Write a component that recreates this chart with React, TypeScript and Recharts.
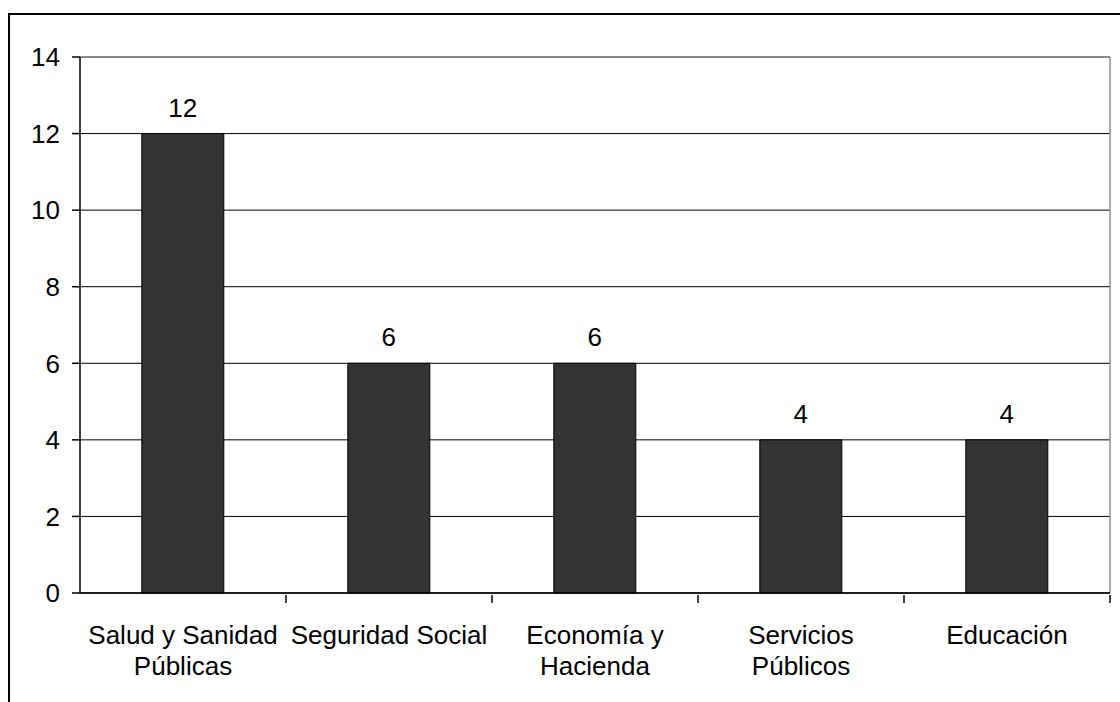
import { Bar, BarChart, CartesianGrid, LabelList, ReferenceLine, XAxis, YAxis } from "recharts"

const categories = [
  "Salud y Sanidad\nPúblicas",
  "Seguridad Social",
  "Economía y\nHacienda",
  "Servicios\nPúblicos",
  "Educación",
]
const values = [12, 6, 6, 4, 4]
const yTicks = [0, 2, 4, 6, 8, 10, 12, 14]

const data = categories.map((name, i) => ({ name, value: values[i] }))

const font = "'Liberation Sans', Arial, sans-serif"

// category label plus the small tick marks on the band boundaries
function CategoryTick(props: any) {
  const { x, y, payload, width, index, visibleTicksCount } = props
  const count = visibleTicksCount || categories.length
  const half = payload.offset && payload.offset > 0 ? payload.offset : width / count / 2
  const lines = String(payload.value).split("\n")
  return (
    <g>
      {index > 0 && <line x1={x - half} x2={x - half} y1={y} y2={y + 8} stroke="#000" strokeWidth={1.5} />}
      {index === count - 1 && (
        <line x1={x + half} x2={x + half} y1={y} y2={y + 8} stroke="#000" strokeWidth={1.5} />
      )}
      <text x={x} y={y} textAnchor="middle" fontSize={26} fontFamily={font} fill="#000">
        {lines.map((line, i) => (
          <tspan key={i} x={x} dy={i === 0 ? 49 : 31}>
            {line}
          </tspan>
        ))}
      </text>
    </g>
  )
}

export default function App() {
  return (
    <div
      style={{
        position: "fixed",
        left: 0,
        top: 0,
        width: 1120,
        height: 702,
        overflow: "hidden",
        background: "#fff",
      }}
    >
      <div
        style={{
          position: "absolute",
          left: 8,
          top: 13,
          width: 1200,
          height: 800,
          border: "2px solid #000",
        }}
      />
      <div style={{ position: "absolute", left: 0, top: 0 }}>
        <BarChart
          width={1120}
          height={702}
          data={data}
          margin={{ top: 57, right: 10, bottom: 49, left: 20 }}
          barCategoryGap="30%"
        >
          <CartesianGrid vertical={false} stroke="#000" strokeWidth={1} />
          <CartesianGrid
            horizontal={false}
            stroke="#8c8c8c"
            strokeWidth={1.5}
            verticalCoordinatesGenerator={({ offset }: any) => [offset.left + offset.width]}
          />
          <XAxis
            dataKey="name"
            height={60}
            interval={0}
            tickLine={false}
            tickSize={0}
            axisLine={{ stroke: "#000", strokeWidth: 1.5 }}
            tick={<CategoryTick />}
          />
          <YAxis
            domain={[0, 14]}
            ticks={yTicks}
            width={60}
            tickSize={8}
            tickMargin={12}
            axisLine={{ stroke: "#000", strokeWidth: 1.5 }}
            tickLine={{ stroke: "#000", strokeWidth: 1.5 }}
            tick={{ fill: "#000", fontSize: 26, fontFamily: font }}
          />
          <ReferenceLine y={14} stroke="#8c8c8c" strokeWidth={1.5} />
          <Bar dataKey="value" fill="#333333" stroke="#000" strokeWidth={1} isAnimationActive={false}>
            <LabelList
              dataKey="value"
              position="top"
              offset={17}
              fill="#000"
              fontSize={26}
              fontFamily={font}
            />
          </Bar>
        </BarChart>
      </div>
    </div>
  )
}
